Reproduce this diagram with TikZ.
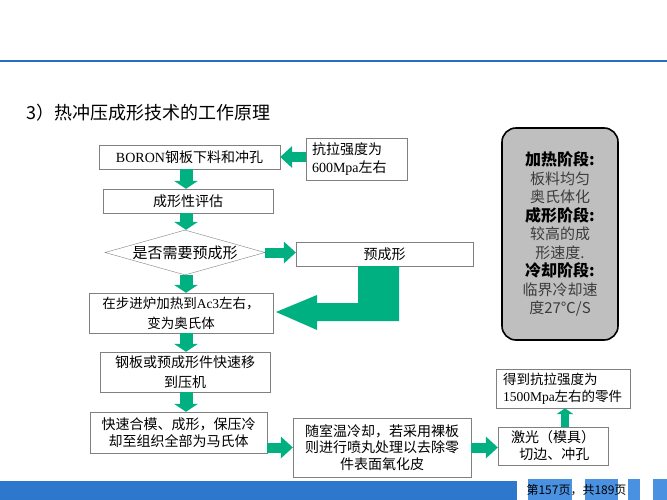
\documentclass[tikz,border=0pt]{standalone}
\usepackage{fontspec}
\setmainfont{Noto Sans CJK SC}
\newfontfamily\latin{Liberation Serif}
\usetikzlibrary{shapes.geometric,arrows.meta}
\definecolor{arrowgreen}{RGB}{0,176,128}
\definecolor{linegray}{RGB}{128,128,128}
\definecolor{barblue}{RGB}{45,120,205}
\definecolor{lightblue}{RGB}{75,145,225}
\definecolor{rulecolor}{RGB}{40,110,190}
\definecolor{notegray}{RGB}{191,191,191}
\definecolor{notetext}{RGB}{60,60,60}

\begin{document}
\begin{tikzpicture}[x=1pt,y=-1pt,
	box/.style={draw=linegray,fill=white,inner sep=0pt,align=center,font=\fontsize{14}{18}\selectfont},
	downarrow/.style={arrowgreen,line width=13pt,-{Triangle[length=8pt,width=24pt,line width=0pt]}},
	sidearrow/.style={arrowgreen,line width=10pt,-{Triangle[length=12pt,width=22pt,line width=0pt]}},
	uparrow/.style={arrowgreen,line width=8pt,-{Triangle[length=6pt,width=17pt,line width=0pt]}},
	head/.style={font=\fontsize{16}{18.5}\selectfont\bfseries,text=black}]

	\useasboundingbox (0,0) rectangle (667,500);

	% header rule and title
	\draw[rulecolor,line width=2.2pt] (0,61) -- (667,61);
	\node[anchor=west,font=\fontsize{18}{22}\selectfont] (title) at (23,113) {3）热冲压成形技术的工作原理};

	% main chain
	\node[box,minimum width=181pt,minimum height=24pt] (b1) at (189.5,157) {{\latin BORON}钢板下料和冲孔};
	\node[box,align=left,text width=89pt,inner xsep=6pt,minimum height=42pt] (spec) at (356.5,159) {抗拉强度为\\{\latin 600Mpa}左右};
	\node[box,minimum width=170pt,minimum height=24pt] (b2) at (188,201) {成形性评估};
	\node[box,diamond,aspect=3.5,minimum width=160pt,minimum height=45pt,font=\fontsize{15}{18}\selectfont] (dia) at (185,252.5) {是否需要预成形};
	\node[box,minimum width=177pt,minimum height=24pt] (pre) at (384.5,254) {预成形};
	\node[box,minimum width=184pt,minimum height=40pt,font=\fontsize{13.5}{20}\selectfont] (b4) at (181,313) {在步进炉加热到{\latin Ac3}左右，\\变为奥氏体};
	\node[box,minimum width=170pt,minimum height=40pt,font=\fontsize{14}{20}\selectfont] (b5) at (185,372) {钢板或预成形件快速移\\到压机};
	\node[box,minimum width=177pt,minimum height=41pt,font=\fontsize{14}{17}\selectfont] (b6) at (178.5,432.5) {快速合模、成形，保压冷\\却至组织全部为马氏体};
	\node[box,minimum width=178pt,minimum height=59pt,font=\fontsize{14}{16.5}\selectfont] (b7) at (382,447.5) {随室温冷却，若采用裸板\\则进行喷丸处理以去除零\\件表面氧化皮};
	\node[box,align=left,text width=84pt,inner xsep=13pt,minimum height=38pt,font=\fontsize{14}{17}\selectfont] (b8) at (553,446) {激光（模具）\\\hspace{0.6em}切边、冲孔};
	\node[box,align=left,text width=120pt,inner xsep=7pt,minimum height=39pt,font=\fontsize{13.5}{17}\selectfont] (b9) at (563,388.5) {得到抗拉强度为\\{\latin 1500Mpa}左右的零件};

	% stage notes
	\node[draw=black,line width=1.6pt,fill=notegray,rounded corners=14pt,minimum width=116pt,minimum height=212pt,
		align=center,text=notetext,font=\fontsize{15}{18.5}\selectfont] (note) at (560,234)
		{{\fontsize{16}{18.5}\selectfont\bfseries\color{black}加热阶段:}\\板料均匀\\奥氏体化\\
		 {\fontsize{16}{18.5}\selectfont\bfseries\color{black}成形阶段:}\\较高的成\\形速度.\\
		 {\fontsize{16}{18.5}\selectfont\bfseries\color{black}冷却阶段:}\\临界冷却速\\度27℃/S};

	% arrows
	\coordinate (ax) at (186,0);
	\coordinate (bx) at (565,0);
	\draw[sidearrow] (spec.west |- b1.east) -- (b1.east);
	\draw[downarrow] (ax |- b1.south) -- (ax |- b2.north);
	\draw[downarrow] (ax |- b2.south) -- (ax |- dia.north);
	\draw[sidearrow] (dia.east) -- (dia.east -| pre.west);
	\draw[downarrow] (ax |- dia.south) -- (ax |- b4.north);
	\draw[downarrow] (ax |- b4.south) -- (ax |- b5.north);
	\draw[downarrow] (ax |- b5.south) -- (ax |- b6.north);
	\draw[sidearrow] (b6.east |- b7.west) -- (b7.west);
	\draw[sidearrow] (b7.east) -- (b8.west |- b7.east);
	\draw[uparrow] (bx |- b8.north) -- (bx |- b9.south);
	\fill[arrowgreen] (358,266) -- (399,266) -- (399,321) -- (317,321) -- (317,330)
		-- (276,312) -- (317,295) -- (317,303) -- (358,303) -- cycle;

	% footer
	\fill[barblue] (0,481) rectangle (517,500);
	\fill[lightblue] (528,479) rectangle (572,500);
	\fill[lightblue] (585,479) rectangle (618,500);
	\fill[lightblue] (628,479) rectangle (640,500);
	\fill[lightblue] (653,479) rectangle (667,500);
	\node[anchor=west,font=\fontsize{12}{14}\selectfont] (page) at (523,490) {第157页，共189页};

\end{tikzpicture}
\end{document}
